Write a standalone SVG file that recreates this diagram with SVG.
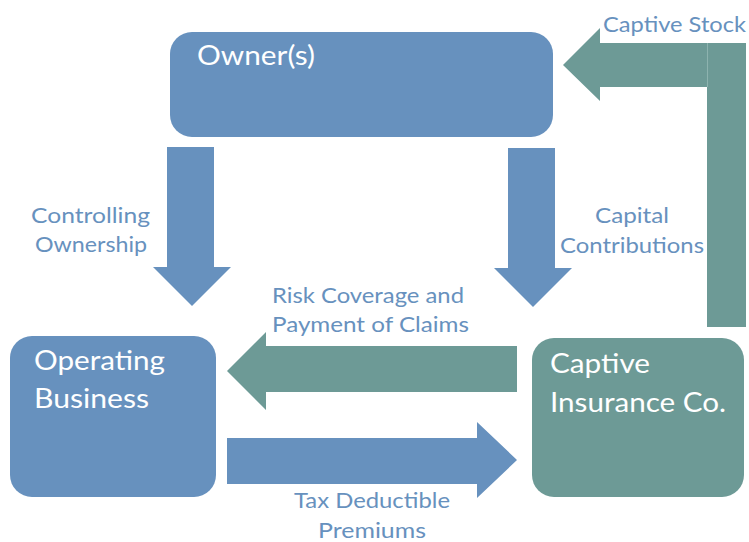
<svg xmlns="http://www.w3.org/2000/svg" width="749" height="542" viewBox="0 0 749 542">
<style>
.blue{fill:#6791BE}
.teal{fill:#6D9A96}
.node{font-family:Lato,"Open Sans","Liberation Sans",sans-serif;fill:#FFFFFF;font-size:27px}
.lbl{font-family:Lato,"Open Sans","Liberation Sans",sans-serif;fill:#6791BE;font-size:21px}
</style>
<rect width="749" height="542" fill="#FFFFFF"/>
<g id="connectors">
<polygon class="blue" points="167,147 214,147 214,267 231,267 192,306 153,267 167,267"/>
<polygon class="blue" points="508,148 555,148 555,268 572,268 533,307 494,268 508,268"/>
<polygon class="teal" points="563,65 600,28 600,43 707,43 707,87 600,87 600,101"/>
<rect class="teal" x="707" y="43" width="39" height="284"/>
<line x1="707.5" y1="43" x2="707.5" y2="87" stroke="#8DB3AF" stroke-width="1"/>
<polygon class="teal" points="227,371 266,332 266,346 517,346 517,392 266,392 266,410"/>
<polygon class="blue" points="227,438 477,438 477,422 517,460 477,498 477,484 227,484"/>
<text class="lbl" x="603" y="32" textLength="143" lengthAdjust="spacingAndGlyphs">Captive Stock</text>
<text class="lbl" x="31" y="223" textLength="119" lengthAdjust="spacingAndGlyphs">Controlling</text>
<text class="lbl" x="35" y="252" textLength="112" lengthAdjust="spacingAndGlyphs">Ownership</text>
<text class="lbl" x="595" y="223" textLength="74" lengthAdjust="spacingAndGlyphs">Capital</text>
<text class="lbl" x="560" y="253" textLength="144" lengthAdjust="spacingAndGlyphs">Contributions</text>
<text class="lbl" x="272" y="303" textLength="192" lengthAdjust="spacingAndGlyphs">Risk Coverage and</text>
<text class="lbl" x="272" y="332" textLength="197" lengthAdjust="spacingAndGlyphs">Payment of Claims</text>
<text class="lbl" x="294" y="508" textLength="156" lengthAdjust="spacingAndGlyphs">Tax Deductible</text>
<text class="lbl" x="318" y="538" textLength="108" lengthAdjust="spacingAndGlyphs">Premiums</text>
</g>
<g id="owners">
<rect class="blue" x="170" y="32" width="383" height="105" rx="22"/>
<text class="node" x="197" y="65" textLength="118" lengthAdjust="spacingAndGlyphs">Owner(s)</text>
</g>
<g id="operating-business">
<rect class="blue" x="10" y="336" width="206" height="161" rx="22"/>
<text class="node" x="34" y="370" textLength="131" lengthAdjust="spacingAndGlyphs">Operating</text>
<text class="node" x="34" y="408" textLength="115" lengthAdjust="spacingAndGlyphs">Business</text>
</g>
<g id="captive-insurance">
<rect class="teal" x="532" y="338" width="212" height="159" rx="22"/>
<text class="node" x="550" y="373" textLength="100" lengthAdjust="spacingAndGlyphs">Captive</text>
<text class="node" x="550" y="412" textLength="176" lengthAdjust="spacingAndGlyphs">Insurance Co.</text>
</g>
</svg>
